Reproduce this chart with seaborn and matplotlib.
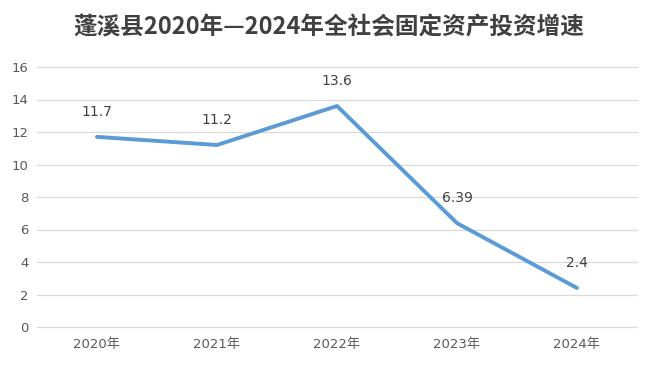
import matplotlib
matplotlib.use('Agg')
import matplotlib.pyplot as plt
import seaborn as sns
import pandas as pd

years = ['2020年', '2021年', '2022年', '2023年', '2024年']
growth = [11.7, 11.2, 13.6, 6.39, 2.4]
labels = ['11.7', '11.2', '13.6', '6.39', '2.4']
title = '蓬溪县2020年—2024年全社会固定资产投资增速'

sns.set_theme(style='white')
plt.rcParams['font.family'] = ['Noto Sans CJK SC', 'DejaVu Sans']

df = pd.DataFrame({'year': years, 'growth': growth})

fig = plt.figure(figsize=(6.52, 3.70), dpi=100)
ax = fig.add_axes([37 / 652, 1 - 327 / 370, 600 / 652, 260 / 370])

sns.lineplot(data=df, x='year', y='growth', ax=ax, color='#5B9BD5',
             linewidth=2.8, sort=False)

for i, (v, t) in enumerate(zip(growth, labels)):
    ax.annotate(t, (i, v), xytext=(0, 18), textcoords='offset points',
                ha='center', va='center', fontsize=10, color='#404040',
                family=['DejaVu Sans', 'Noto Sans CJK SC'])

ax.set_xlim(-0.5, 4.5)
ax.set_ylim(0, 16)
ax.set_yticks(range(0, 17, 2))
ax.set_xlabel('')
ax.set_ylabel('')
ax.grid(axis='y', color='#D9D9D9', linewidth=0.9)
ax.grid(axis='x', visible=False)
for gl in ax.get_ygridlines():
    gl.set_clip_on(False)
for s in ax.spines.values():
    s.set_visible(False)
ax.tick_params(axis='both', length=0, labelsize=9.5, labelcolor='#595959')
ax.tick_params(axis='x', pad=8)
ax.tick_params(axis='y', pad=6)
for lab in ax.get_xticklabels() + ax.get_yticklabels():
    lab.set_family(['DejaVu Sans', 'Noto Sans CJK SC'])

fig.text(0.505, 1 - 27 / 370, title, ha='center', va='center',
         fontsize=17, fontweight='heavy', color='#404040')

fig.savefig('out.png', dpi=100, facecolor='white')
